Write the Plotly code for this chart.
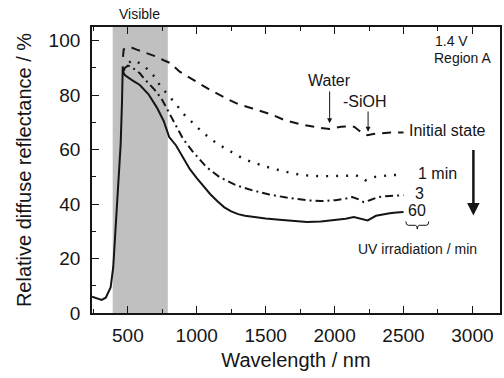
import plotly.graph_objects as go

# 60 min (solid)
w60 = [240, 260, 290, 310, 340, 375, 394, 408, 418, 435, 448, 458, 463, 470, 480, 530, 587, 650, 710, 760, 780,
       800, 850, 900, 950, 1000, 1050, 1100, 1150, 1200, 1250, 1300, 1350, 1400, 1500, 1600, 1700, 1800, 1900,
       2000, 2080, 2140, 2180, 2240, 2300, 2350, 2400, 2450, 2500]
r60 = [6.0, 5.6, 5.0, 4.8, 5.6, 9.4, 16.8, 28.0, 38.9, 52.0, 62.0, 78.0, 90.5, 88.0, 87.3, 85.5, 83.7, 80.3, 75.5,
       70.5, 67.8, 64.6, 61.5, 57.0, 52.8, 49.5, 46.5, 43.5, 41.0, 38.8, 37.3, 36.3, 35.7, 35.3, 34.7, 34.2,
       33.8, 33.4, 33.6, 34.1, 34.6, 35.2, 34.8, 34.0, 35.7, 36.2, 36.6, 36.9, 37.1]

# initial state (dashed)
w0 = [465, 470, 500, 530, 565, 637, 697, 760, 806, 876, 950, 1020, 1100, 1213, 1300, 1405, 1550, 1637, 1750,
      1878, 1962, 2000, 2046, 2100, 2142, 2190, 2238, 2280, 2311, 2408, 2500]
r0 = [94.0, 96.8, 97.6, 97.4, 96.7, 95.5, 94.3, 92.8, 91.8, 88.6, 86.3, 84.3, 81.8, 78.8, 76.7, 75.1, 72.7, 70.8,
      69.3, 68.1, 67.6, 67.9, 68.4, 68.5, 68.4, 66.5, 65.3, 65.7, 65.9, 66.3, 66.3]

# 1 min (dotted)
w1 = [470, 490, 538, 611, 683, 731, 780, 840, 900, 960, 1032, 1103, 1177, 1249, 1321, 1394, 1466, 1538, 1650,
      1765, 1900, 2008, 2100, 2154, 2190, 2222, 2260, 2296, 2400, 2500]
r1 = [89.0, 91.3, 92.9, 91.1, 87.4, 83.7, 80.7, 77.3, 73.3, 70.2, 66.8, 63.8, 61.3, 59.2, 57.1, 55.5, 54.3, 53.2,
      51.8, 50.6, 50.2, 50.2, 50.4, 50.6, 49.8, 48.7, 49.5, 50.0, 50.6, 50.8]

# 3 min (dash-dot)
w3 = [466, 500, 527, 587, 623, 695, 743, 803, 840, 900, 972, 1069, 1165, 1285, 1405, 1526, 1650, 1815, 1900,
      2008, 2080, 2128, 2170, 2212, 2260, 2320, 2400, 2500]
r3 = [89.5, 90.8, 90.3, 88.0, 85.8, 81.9, 78.8, 73.3, 69.8, 64.0, 59.2, 53.6, 49.9, 46.9, 45.0, 43.5, 42.4, 41.3,
      41.1, 41.4, 42.0, 42.6, 41.8, 40.7, 41.5, 42.6, 43.0, 43.2]

xticks = [500, 1000, 1500, 2000, 2500, 3000]
yticks = [0, 20, 40, 60, 80, 100]

FONT = "Liberation Sans, Arial, sans-serif"
INK = "#151515"

fig = go.Figure()
fig.add_shape(type="rect", xref="x", yref="y domain", x0=390, x1=790, y0=0, y1=1,
              fillcolor="#c0c0c0", line_width=0, layer="below")

fig.add_trace(go.Scatter(x=w0, y=r0, mode="lines", line=dict(color=INK, width=2, dash="9px,7px"),
                         name="Initial state"))
fig.add_trace(go.Scatter(x=w1, y=r1, mode="lines", line=dict(color=INK, width=2.4, dash="2px,8px"),
                         name="1 min"))
fig.add_trace(go.Scatter(x=w3, y=r3, mode="lines", line=dict(color=INK, width=2, dash="8px,4px,2px,4px"),
                         name="3 min"))
fig.add_trace(go.Scatter(x=w60, y=r60, mode="lines", line=dict(color=INK, width=2), name="60 min"))

def txt(x, y, s, size, xanchor="center"):
    fig.add_annotation(x=x, y=y, xref="x", yref="y", text=s, showarrow=False,
                       font=dict(family=FONT, size=size, color=INK), xanchor=xanchor, yanchor="middle")

fig.add_annotation(x=587, y=1.047, xref="x", yref="paper", text="Visible", showarrow=False,
                   font=dict(family=FONT, size=14, color=INK), xanchor="center", yanchor="middle")
txt(2712, 99.7, "1.4 V", 14, "left")
txt(2705, 93.6, "Region A", 14, "left")
txt(1960, 85.3, "Water", 16)
txt(2220, 77.8, "-SiOH", 16)
txt(2525, 66.9, "Initial state", 16, "left")
txt(2590, 51.2, "1 min", 16, "left")
txt(2572, 43.8, "3", 16, "left")
txt(2515, 37.7, "60", 16, "left")
txt(2603, 23.6, "UV irradiation / min", 14)

def arrow(x, y_from, y_to, width, head, size):
    fig.add_annotation(x=x, y=y_to, ax=x, ay=y_from, xref="x", yref="y", axref="x", ayref="y",
                       text="", showarrow=True, arrowhead=head, arrowsize=size, arrowwidth=width,
                       arrowcolor=INK)

arrow(1964, 81.9, 69.7, 1, 2, 1)
arrow(2243, 74.5, 66.5, 1, 2, 1)
arrow(3007, 60.4, 35.8, 2.5, 2, 1)

# brace under "60"
fig.add_shape(type="path", xref="x", yref="y",
              path="M 2517,33.6 Q 2517,32.2 2535,32.2 L 2585,32.2 Q 2600,32.2 2600,30.8 "
                   "Q 2600,32.2 2615,32.2 L 2665,32.2 Q 2683,32.2 2683,33.6",
              line=dict(color=INK, width=1))

axis_common = dict(showline=True, linecolor=INK, linewidth=1.8, mirror="allticks", ticks="inside",
                   ticklen=7, tickwidth=1.3, tickcolor=INK, showgrid=False, zeroline=False,
                   tickfont=dict(family=FONT, size=19, color=INK))

fig.update_xaxes(range=[240, 3200], tickvals=xticks, ticktext=[str(v) for v in xticks],
                 minor=dict(ticks="inside", ticklen=4, tickwidth=1.2, dtick=250, tick0=0, tickcolor=INK),
                 title=dict(text="Wavelength / nm", font=dict(family=FONT, size=20, color=INK), standoff=8),
                 ticklabelstandoff=4, **axis_common)
axis_y = dict(axis_common)
axis_y["mirror"] = True
fig.update_yaxes(range=[0, 105], tickvals=yticks, ticktext=[str(v) for v in yticks],
                 minor=dict(ticks="inside", ticklen=4, tickwidth=1.2, dtick=10, tick0=0, tickcolor=INK),
                 title=dict(text="Relative diffuse reflectance / %", font=dict(family=FONT, size=20, color=INK),
                            standoff=12),
                 ticklabelstandoff=6, **axis_y)

fig.update_layout(width=504, height=378, margin=dict(l=92, r=2, t=27, b=65),
                  paper_bgcolor="white", plot_bgcolor="white", showlegend=False)

fig.write_html("out.html", config={"displayModeBar": False},
               post_script="document.body.style.margin='0';document.body.style.overflow='hidden';")
